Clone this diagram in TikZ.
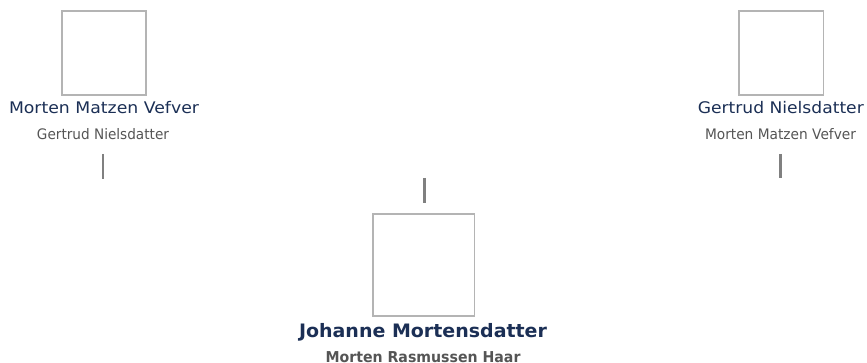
\documentclass[tikz,border=0pt]{standalone}
\usepackage{fontspec}
\setmainfont{DejaVu Sans}
\usepackage{graphicx}
\definecolor{navy}{HTML}{1B2F55}
\definecolor{subgray}{HTML}{555555}
\definecolor{boxgray}{HTML}{B4B4B4}
\definecolor{linegray}{HTML}{808080}
\newcommand{\fitw}[3]{\resizebox{#1pt}{\height}{\fontsize{#2}{#2}\selectfont #3}}
\begin{document}
\begin{tikzpicture}[x=1pt,y=-1pt,
  photo/.style={draw=boxgray, line width=1.8pt, fill=white, inner sep=0pt, outer sep=0pt},
  pname/.style={anchor=base, inner sep=0pt, text=navy},
  sname/.style={anchor=base, inner sep=0pt, text=subgray},
  stub/.style={draw=linegray, line width=2.5pt}]
\useasboundingbox (0,0) rectangle (867,363);
% left person
\node[photo, minimum width=84.2pt, minimum height=84.2pt] (b1) at (104,53) {};
\node[pname] (n1) at (104,113.3) {\fitw{190}{16}{Morten Matzen Vefver}};
\node[sname] (s1) at (103,140) {\fitw{132}{14.5}{Gertrud Nielsdatter}};
\coordinate (a1) at (103,154);
\coordinate (e1) at (103,179);
\draw[stub] (a1) -- (e1);
% right person
\node[photo, minimum width=84.2pt, minimum height=84.2pt] (b2) at (781.3,53) {};
\node[pname] (n2) at (780.8,113.3) {\fitw{166}{16}{Gertrud Nielsdatter}};
\node[sname] (s2) at (780.5,140) {\fitw{151}{14.5}{Morten Matzen Vefver}};
\coordinate (a2) at (780.7,154);
\coordinate (e2) at (780.7,178.5);
\draw[stub] (a2) -- (e2);
% centre person
\coordinate (a3) at (424.3,178);
\coordinate (e3) at (424.3,202.7);
\draw[stub] (a3) -- (e3);
\node[photo, minimum width=101.8pt, minimum height=101.8pt] (b3) at (423.5,265.2) {};
\node[pname] (n3) at (423,337.3) {\fitw{248}{18.5}{\bfseries Johanne Mortensdatter}};
\node[sname] (s3) at (423,362.5) {\fitw{195}{15}{\bfseries Morten Rasmussen Haar}};
\end{tikzpicture}
\end{document}
